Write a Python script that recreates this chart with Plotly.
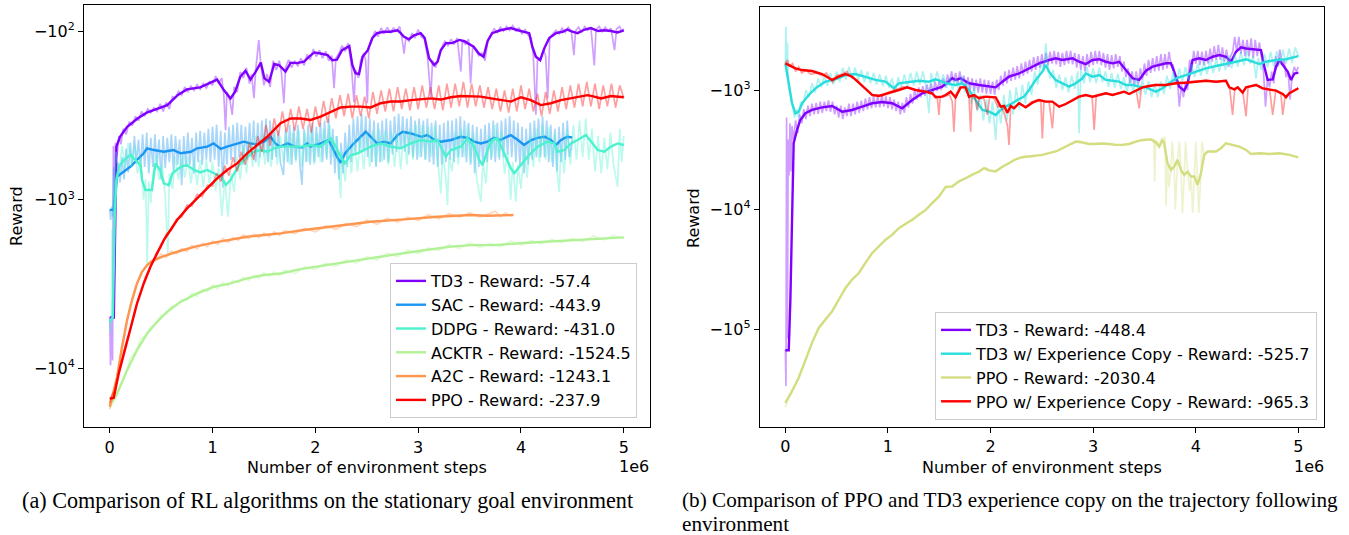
import plotly.graph_objects as go

# ---------------- data: (environment steps in millions, reward) ----------------
# Left panel: stationary goal environment
td3_a = [(0.00,-5000),(0.04,-5000),(0.065,-485),(0.10,-424),(0.17,-370),(0.27,-330),(0.36,-305),(0.49,-284),(0.56,-275),(0.66,-240),(0.75,-222),(0.88,-216),(1.01,-200),(1.045,-194),(1.11,-224),(1.175,-251),(1.22,-229),(1.27,-187),(1.32,-172),(1.37,-194),(1.42,-174),(1.47,-154),(1.505,-191),(1.55,-200),(1.60,-157),(1.65,-160),(1.71,-174),(1.76,-154),(1.82,-155),(1.89,-152),(1.94,-142),(1.99,-134),(2.05,-136),(2.12,-139),(2.165,-149),(2.21,-148),(2.26,-130),(2.33,-123),(2.36,-159),(2.39,-178),(2.425,-180),(2.46,-142),(2.51,-130),(2.555,-110),(2.60,-103),(2.67,-101),(2.73,-101),(2.80,-99),(2.83,-103),(2.86,-108),(2.91,-112),(2.96,-106),(3.025,-103),(3.064,-110),(3.106,-145),(3.155,-159),(3.19,-152),(3.22,-130),(3.27,-118),(3.33,-118),(3.40,-113),(3.45,-115),(3.48,-118),(3.54,-124),(3.59,-136),(3.636,-142),(3.675,-115),(3.72,-103),(3.80,-99),(3.90,-96),(3.97,-99),(4.03,-101),(4.08,-103),(4.11,-124),(4.145,-142),(4.187,-149),(4.226,-127),(4.275,-110),(4.34,-103),(4.405,-101),(4.45,-98),(4.50,-101),(4.55,-103),(4.62,-98),(4.68,-96),(4.75,-100),(4.81,-99),(4.875,-100),(4.94,-102),(5.00,-99)]
td3_a_raw = [(0.000,-5000),(0.008,-9600),(0.018,-5200),(0.028,-9000),(0.036,-480),(0.046,-1400),(0.056,-460),(0.07,-560),(0.09,-420),(0.11,-470),(0.13,-380),(0.16,-410),(0.19,-345),(0.22,-365),(0.25,-320),(0.28,-340),(0.31,-300),(0.34,-320),(0.37,-290),(0.40,-305),(0.43,-285),(0.46,-300),(0.49,-270),(0.52,-300),(0.55,-265),(0.58,-290),(0.61,-245),(0.64,-250),(0.67,-228),(0.70,-240),(0.73,-215),(0.76,-230),(0.79,-212),(0.82,-225),(0.85,-208),(0.88,-222),(0.91,-205),(0.94,-218),(0.97,-200),(1.00,-210),(1.03,-185),(1.06,-205),(1.09,-190),(1.11,-240),(1.127,-387),(1.14,-230),(1.17,-260),(1.192,-314),(1.21,-215),(1.24,-230),(1.27,-175),(1.30,-190),(1.33,-165),(1.36,-205),(1.38,-180),(1.403,-250),(1.42,-170),(1.45,-113),(1.47,-160),(1.50,-210),(1.53,-180),(1.56,-215),(1.59,-150),(1.62,-170),(1.65,-150),(1.67,-175),(1.694,-268),(1.71,-165),(1.74,-148),(1.77,-165),(1.80,-150),(1.83,-162),(1.86,-145),(1.89,-160),(1.92,-138),(1.95,-148),(1.98,-128),(2.01,-142),(2.04,-130),(2.07,-145),(2.10,-132),(2.13,-150),(2.16,-140),(2.182,-218),(2.20,-145),(2.23,-135),(2.26,-122),(2.29,-132),(2.32,-118),(2.35,-160),(2.376,-264),(2.39,-170),(2.42,-190),(2.44,-150),(2.47,-135),(2.49,-150),(2.506,-268),(2.52,-125),(2.55,-112),(2.58,-100),(2.61,-108),(2.64,-96),(2.67,-104),(2.70,-95),(2.73,-103),(2.76,-96),(2.79,-100),(2.82,-94),(2.84,-108),(2.863,-136),(2.88,-110),(2.91,-115),(2.94,-103),(2.97,-110),(3.00,-98),(3.03,-108),(3.06,-112),(3.09,-140),(3.123,-246),(3.14,-150),(3.17,-165),(3.20,-140),(3.23,-125),(3.26,-115),(3.29,-122),(3.32,-112),(3.35,-120),(3.38,-110),(3.415,-174),(3.43,-114),(3.46,-120),(3.49,-112),(3.51,-204),(3.53,-125),(3.56,-130),(3.59,-140),(3.62,-135),(3.65,-150),(3.68,-112),(3.71,-104),(3.74,-97),(3.77,-102),(3.80,-95),(3.83,-100),(3.86,-94),(3.89,-99),(3.92,-93),(3.95,-100),(3.98,-96),(4.01,-104),(4.04,-98),(4.07,-106),(4.10,-110),(4.12,-140),(4.145,-314),(4.16,-150),(4.19,-145),(4.22,-130),(4.24,-140),(4.26,-250),(4.28,-110),(4.31,-104),(4.34,-99),(4.37,-104),(4.40,-96),(4.43,-102),(4.46,-95),(4.49,-100),(4.515,-139),(4.53,-100),(4.56,-95),(4.59,-102),(4.62,-94),(4.65,-99),(4.68,-95),(4.713,-160),(4.73,-98),(4.76,-94),(4.79,-101),(4.82,-95),(4.85,-100),(4.875,-96),(4.91,-130),(4.93,-97),(4.96,-94),(4.98,-100),(5.00,-97)]

sac_a = [(0.00,-1150),(0.039,-1150),(0.072,-730),(0.137,-683),(0.20,-638),(0.266,-582),(0.33,-531),(0.364,-496),(0.43,-508),(0.526,-520),(0.62,-508),(0.69,-531),(0.79,-520),(0.85,-496),(0.95,-485),(1.01,-464),(1.08,-500),(1.14,-485),(1.24,-464),(1.305,-453),(1.37,-464),(1.435,-470),(1.50,-453),(1.565,-424),(1.61,-464),(1.66,-485),(1.73,-464),(1.80,-485),(1.87,-490),(1.92,-464),(1.95,-485),(2.05,-464),(2.13,-443),(2.16,-485),(2.21,-556),(2.245,-604),(2.29,-531),(2.36,-474),(2.44,-424),(2.49,-396),(2.54,-424),(2.60,-464),(2.67,-453),(2.73,-464),(2.80,-414),(2.85,-396),(2.93,-405),(3.03,-424),(3.09,-414),(3.16,-443),(3.22,-453),(3.32,-443),(3.415,-424),(3.48,-430),(3.545,-453),(3.61,-464),(3.675,-453),(3.74,-430),(3.80,-443),(3.90,-414),(3.97,-443),(4.03,-474),(4.10,-443),(4.16,-430),(4.23,-424),(4.29,-443),(4.34,-474),(4.39,-443),(4.45,-424),(4.50,-428)]
sac_a_raw = [(0,-1150),(0.01,-1320),(0.02,-1100),(0.03,-1260),(0.04,-640),(0.06,-850),(0.08,-600),(0.10,-790),(0.12,-560),(0.14,-760),(0.16,-500),(0.18,-690),(0.20,-460),(0.22,-640),(0.24,-420),(0.26,-610),(0.28,-440),(0.30,-660),(0.32,-410),(0.34,-640),(0.36,-400),(0.38,-700),(0.40,-430),(0.42,-640),(0.44,-410),(0.46,-620),(0.48,-440),(0.50,-760),(0.52,-420),(0.54,-650),(0.56,-430),(0.58,-600),(0.60,-410),(0.62,-680),(0.64,-420),(0.66,-620),(0.68,-440),(0.70,-820),(0.72,-420),(0.74,-640),(0.76,-400),(0.78,-620),(0.80,-430),(0.82,-700),(0.84,-400),(0.86,-600),(0.88,-390),(0.90,-620),(0.92,-400),(0.94,-580),(0.96,-380),(0.98,-600),(1.00,-370),(1.02,-580),(1.04,-360),(1.06,-640),(1.08,-390),(1.10,-850),(1.12,-400),(1.14,-620),(1.16,-370),(1.18,-580),(1.20,-360),(1.22,-600),(1.24,-350),(1.26,-560),(1.28,-360),(1.30,-620),(1.32,-370),(1.34,-580),(1.36,-350),(1.38,-560),(1.40,-340),(1.42,-600),(1.44,-350),(1.46,-560),(1.48,-340),(1.50,-540),(1.52,-330),(1.54,-600),(1.56,-340),(1.58,-580),(1.60,-370),(1.62,-560),(1.64,-390),(1.66,-600),(1.69,-715),(1.71,-380),(1.73,-600),(1.75,-360),(1.77,-620),(1.79,-370),(1.81,-580),(1.83,-360),(1.85,-620),(1.87,-818),(1.89,-380),(1.91,-600),(1.93,-360),(1.95,-620),(1.97,-350),(1.99,-600),(2.01,-370),(2.03,-560),(2.05,-350),(2.07,-600),(2.09,-340),(2.11,-580),(2.13,-330),(2.15,-620),(2.17,-380),(2.19,-700),(2.21,-420),(2.23,-760),(2.25,-460),(2.27,-700),(2.29,-400),(2.31,-640),(2.33,-360),(2.35,-600),(2.37,-330),(2.39,-540),(2.41,-320),(2.43,-520),(2.45,-310),(2.47,-520),(2.49,-320),(2.51,-560),(2.53,-330),(2.55,-600),(2.57,-340),(2.59,-640),(2.61,-350),(2.63,-600),(2.65,-340),(2.67,-580),(2.69,-330),(2.71,-600),(2.73,-340),(2.75,-540),(2.77,-320),(2.79,-520),(2.81,-310),(2.83,-500),(2.85,-320),(2.87,-520),(2.89,-330),(2.91,-540),(2.93,-320),(2.95,-560),(2.97,-340),(2.99,-580),(3.01,-330),(3.03,-560),(3.05,-340),(3.07,-580),(3.09,-330),(3.11,-600),(3.13,-350),(3.15,-620),(3.17,-340),(3.19,-640),(3.21,-360),(3.23,-620),(3.25,-350),(3.27,-600),(3.29,-340),(3.31,-580),(3.33,-340),(3.35,-600),(3.37,-330),(3.39,-560),(3.41,-320),(3.43,-560),(3.45,-340),(3.47,-600),(3.49,-350),(3.51,-620),(3.53,-360),(3.55,-700),(3.57,-370),(3.59,-640),(3.61,-380),(3.63,-620),(3.65,-360),(3.67,-600),(3.69,-350),(3.71,-580),(3.73,-340),(3.75,-600),(3.77,-350),(3.79,-580),(3.81,-340),(3.83,-560),(3.85,-330),(3.87,-540),(3.89,-320),(3.91,-560),(3.93,-340),(3.95,-600),(3.97,-350),(3.99,-640),(4.01,-370),(4.03,-700),(4.05,-380),(4.07,-620),(4.09,-350),(4.11,-580),(4.13,-340),(4.15,-560),(4.17,-330),(4.19,-560),(4.21,-320),(4.23,-560),(4.25,-340),(4.27,-600),(4.29,-360),(4.31,-640),(4.33,-380),(4.35,-680),(4.37,-370),(4.39,-600),(4.41,-350),(4.43,-580),(4.45,-340),(4.47,-560),(4.50,-440)]

ddpg_a = [(0.00,-5300),(0.03,-5000),(0.05,-1200),(0.065,-765),(0.09,-638),(0.137,-582),(0.20,-543),(0.25,-582),(0.30,-624),(0.315,-765),(0.347,-877),(0.41,-877),(0.445,-610),(0.49,-667),(0.526,-800),(0.575,-820),(0.61,-698),(0.69,-638),(0.75,-623),(0.82,-667),(0.88,-690),(0.95,-667),(1.01,-698),(1.08,-731),(1.13,-818),(1.175,-765),(1.21,-698),(1.27,-610),(1.34,-556),(1.40,-520),(1.47,-508),(1.53,-520),(1.60,-496),(1.662,-485),(1.76,-485),(1.857,-485),(1.954,-474),(2.051,-485),(2.149,-433),(2.198,-485),(2.246,-556),(2.285,-610),(2.344,-546),(2.409,-531),(2.474,-508),(2.538,-485),(2.636,-464),(2.733,-485),(2.831,-496),(2.928,-464),(3.025,-443),(3.123,-453),(3.188,-443),(3.236,-508),(3.269,-556),(3.318,-508),(3.415,-485),(3.48,-433),(3.545,-485),(3.594,-582),(3.626,-624),(3.675,-508),(3.723,-443),(3.772,-433),(3.837,-531),(3.902,-653),(3.934,-698),(3.983,-638),(4.064,-556),(4.161,-485),(4.259,-453),(4.324,-464),(4.356,-520),(4.421,-508),(4.486,-464),(4.55,-443),(4.632,-414),(4.697,-464),(4.746,-508),(4.81,-520),(4.875,-485),(4.94,-464),(5.0,-474)]
ddpg_a_raw = [(0.000,-5300),(0.008,-6200),(0.016,-4800),(0.024,-1500),(0.032,-4600),(0.04,-900),(0.05,-700),(0.06,-520),(0.09,-700),(0.12,-480),(0.15,-650),(0.18,-460),(0.21,-640),(0.24,-480),(0.27,-700),(0.30,-560),(0.33,-1000),(0.35,-760),(0.364,-2500),(0.38,-780),(0.40,-1050),(0.42,-700),(0.45,-540),(0.48,-760),(0.51,-620),(0.54,-960),(0.566,-2100),(0.58,-700),(0.61,-860),(0.64,-560),(0.67,-760),(0.70,-540),(0.73,-740),(0.76,-560),(0.79,-800),(0.82,-580),(0.85,-820),(0.88,-580),(0.91,-840),(0.94,-580),(0.97,-800),(1.00,-600),(1.03,-880),(1.06,-650),(1.09,-1250),(1.12,-760),(1.15,-1260),(1.18,-700),(1.21,-900),(1.24,-560),(1.27,-760),(1.30,-480),(1.33,-700),(1.36,-440),(1.39,-640),(1.42,-420),(1.45,-640),(1.48,-420),(1.51,-620),(1.54,-430),(1.57,-640),(1.60,-410),(1.63,-620),(1.66,-420),(1.69,-600),(1.72,-400),(1.75,-620),(1.78,-400),(1.81,-600),(1.84,-390),(1.87,-640),(1.90,-400),(1.93,-600),(1.96,-380),(1.99,-620),(2.02,-400),(2.05,-600),(2.08,-380),(2.11,-560),(2.14,-360),(2.17,-560),(2.20,-420),(2.23,-700),(2.246,-980),(2.26,-520),(2.29,-780),(2.32,-460),(2.35,-700),(2.38,-440),(2.41,-680),(2.44,-420),(2.47,-660),(2.50,-400),(2.53,-640),(2.56,-390),(2.59,-620),(2.62,-380),(2.65,-600),(2.68,-390),(2.71,-620),(2.74,-400),(2.77,-640),(2.80,-400),(2.83,-660),(2.86,-390),(2.89,-620),(2.92,-380),(2.95,-580),(2.98,-360),(3.01,-560),(3.04,-360),(3.07,-580),(3.10,-370),(3.13,-560),(3.16,-360),(3.19,-600),(3.22,-920),(3.24,-520),(3.27,-760),(3.285,-1076),(3.30,-560),(3.33,-680),(3.36,-400),(3.39,-620),(3.42,-380),(3.45,-560),(3.48,-360),(3.51,-600),(3.54,-400),(3.57,-760),(3.61,-1030),(3.63,-600),(3.66,-800),(3.69,-420),(3.72,-560),(3.75,-360),(3.78,-560),(3.81,-400),(3.84,-700),(3.87,-520),(3.90,-1000),(3.92,-600),(3.95,-1030),(3.97,-620),(4.00,-860),(4.03,-480),(4.06,-740),(4.09,-420),(4.12,-640),(4.15,-380),(4.18,-600),(4.21,-360),(4.24,-580),(4.27,-370),(4.30,-600),(4.33,-400),(4.35,-680),(4.372,-900),(4.39,-460),(4.42,-700),(4.45,-380),(4.48,-620),(4.51,-360),(4.54,-580),(4.57,-340),(4.60,-560),(4.63,-330),(4.66,-580),(4.69,-380),(4.72,-680),(4.75,-420),(4.78,-700),(4.81,-430),(4.84,-660),(4.87,-400),(4.90,-620),(4.94,-840),(4.96,-380),(4.98,-600),(5.00,-420)]

acktr_a = [(0.0,-16500),(0.072,-14100),(0.169,-10260),(0.266,-7800),(0.364,-6210),(0.461,-5300),(0.559,-4620),(0.688,-4040),(0.85,-3600),(1.013,-3290),(1.175,-3140),(1.337,-2930),(1.5,-2800),(1.662,-2740),(1.857,-2580),(2.149,-2420),(2.441,-2260),(2.733,-2132),(3.025,-2010),(3.318,-1900),(3.512,-1860),(3.74,-1860),(4.064,-1800),(4.388,-1755),(4.713,-1700),(5.0,-1675)]
acktr_a_raw = [(0.0,-17200),(0.05,-15500),(0.10,-12800),(0.15,-11000),(0.20,-8700),(0.25,-8000),(0.30,-6700),(0.35,-6400),(0.40,-5700),(0.45,-5450),(0.50,-4850),(0.55,-4800),(0.60,-4300),(0.65,-4250),(0.70,-3900),(0.75,-3950),(0.80,-3600),(0.85,-3750),(0.90,-3400),(0.95,-3500),(1.00,-3200),(1.05,-3380),(1.10,-3100),(1.15,-3250),(1.20,-3020),(1.25,-3120),(1.30,-2880),(1.35,-3020),(1.40,-2800),(1.45,-2920),(1.50,-2720),(1.55,-2850),(1.60,-2680),(1.65,-2820),(1.70,-2620),(1.80,-2740),(1.90,-2500),(2.00,-2600),(2.10,-2380),(2.20,-2480),(2.30,-2280),(2.40,-2380),(2.50,-2180),(2.60,-2280),(2.70,-2080),(2.80,-2180),(2.90,-1990),(3.00,-2090),(3.10,-1930),(3.20,-2000),(3.30,-1850),(3.40,-1950),(3.50,-1800),(3.60,-1920),(3.70,-1820),(3.80,-1900),(3.90,-1760),(4.00,-1860),(4.10,-1750),(4.20,-1830),(4.30,-1720),(4.40,-1800),(4.50,-1690),(4.60,-1770),(4.70,-1640),(4.80,-1730),(4.90,-1630),(5.00,-1700)]

a2c_a = [(0.0,-16900),(0.072,-11220),(0.12,-7450),(0.169,-5180),(0.218,-3940),(0.266,-3140),(0.315,-2680),(0.364,-2445),(0.428,-2282),(0.526,-2160),(0.688,-2010),(0.85,-1885),(1.013,-1800),(1.175,-1722),(1.337,-1660),(1.5,-1622),(1.662,-1585),(1.887,-1514),(2.214,-1436),(2.538,-1353),(2.863,-1310),(3.188,-1263),(3.512,-1234),(3.67,-1245),(3.926,-1234)]
a2c_a_raw = [(0.0,-17500),(0.05,-13500),(0.10,-8800),(0.15,-6000),(0.20,-4200),(0.25,-3300),(0.30,-2750),(0.35,-2500),(0.40,-2300),(0.45,-2300),(0.50,-2100),(0.55,-2200),(0.60,-2020),(0.65,-2100),(0.70,-1950),(0.75,-2030),(0.80,-1870),(0.85,-1960),(0.90,-1820),(0.95,-1900),(1.00,-1760),(1.05,-1850),(1.10,-1700),(1.15,-1790),(1.20,-1680),(1.25,-1740),(1.30,-1620),(1.35,-1700),(1.40,-1600),(1.45,-1680),(1.50,-1580),(1.55,-1660),(1.60,-1550),(1.65,-1630),(1.70,-1530),(1.80,-1590),(1.90,-1480),(2.00,-1550),(2.10,-1430),(2.20,-1500),(2.30,-1390),(2.40,-1450),(2.50,-1320),(2.60,-1400),(2.70,-1290),(2.80,-1360),(2.90,-1270),(3.00,-1330),(3.10,-1230),(3.20,-1300),(3.30,-1210),(3.40,-1270),(3.50,-1200),(3.60,-1270),(3.70,-1210),(3.75,-1170),(3.80,-1260),(3.85,-1200),(3.90,-1250),(3.926,-1230)]

ppo_a = [(0.0,-15100),(0.039,-15000),(0.088,-10720),(0.137,-8170),(0.201,-5680),(0.266,-4120),(0.331,-3140),(0.396,-2500),(0.461,-2083),(0.526,-1738),(0.591,-1514),(0.656,-1321),(0.753,-1127),(0.85,-982),(0.948,-857),(1.045,-748),(1.142,-667),(1.24,-610),(1.337,-531),(1.435,-474),(1.532,-424),(1.662,-352),(1.76,-330),(1.857,-330),(1.954,-337),(2.051,-322),(2.149,-301),(2.246,-284),(2.344,-281),(2.441,-281),(2.538,-284),(2.636,-268),(2.733,-262),(2.831,-262),(2.928,-257),(3.025,-255),(3.123,-251),(3.22,-255),(3.318,-247),(3.415,-243),(3.512,-245),(3.61,-245),(3.707,-251),(3.804,-257),(3.902,-262),(3.999,-247),(4.096,-257),(4.194,-275),(4.291,-268),(4.388,-257),(4.486,-251),(4.583,-245),(4.648,-240),(4.713,-245),(4.778,-251),(4.875,-243),(4.94,-245),(5.0,-247)]
ppo_a_raw = [(0.0,-16000),(0.02,-14500),(0.05,-13500),(0.10,-10000),(0.15,-7400),(0.20,-5900),(0.25,-4400),(0.30,-3600),(0.35,-2850),(0.40,-2500),(0.45,-2100),(0.50,-1900),(0.55,-1600),(0.60,-1520),(0.65,-1300),(0.70,-1270),(0.75,-1080),(0.80,-1090),(0.85,-930),(0.90,-960),(0.95,-820),(1.00,-830),(1.04,-700),(1.08,-780),(1.12,-630),(1.16,-720),(1.20,-560),(1.24,-680),(1.28,-520),(1.32,-620),(1.36,-460),(1.40,-580),(1.44,-420),(1.48,-520),(1.52,-360),(1.56,-480),(1.60,-330),(1.64,-420),(1.68,-300),(1.72,-400),(1.76,-290),(1.80,-390),(1.84,-280),(1.88,-380),(1.92,-290),(1.96,-400),(2.00,-280),(2.04,-370),(2.08,-260),(2.12,-350),(2.16,-250),(2.20,-330),(2.24,-240),(2.28,-320),(2.32,-235),(2.36,-330),(2.40,-240),(2.44,-320),(2.48,-245),(2.52,-330),(2.56,-230),(2.60,-310),(2.64,-225),(2.68,-300),(2.72,-220),(2.76,-300),(2.80,-215),(2.84,-290),(2.88,-220),(2.92,-295),(2.96,-215),(3.00,-290),(3.04,-210),(3.08,-285),(3.12,-215),(3.16,-290),(3.20,-210),(3.24,-295),(3.28,-205),(3.32,-285),(3.36,-205),(3.40,-280),(3.44,-200),(3.48,-285),(3.52,-205),(3.56,-280),(3.60,-210),(3.64,-285),(3.68,-215),(3.72,-290),(3.76,-220),(3.80,-300),(3.84,-225),(3.88,-305),(3.92,-220),(3.96,-300),(4.00,-210),(4.04,-290),(4.08,-220),(4.12,-300),(4.16,-235),(4.20,-320),(4.24,-230),(4.28,-310),(4.32,-225),(4.36,-300),(4.40,-215),(4.44,-290),(4.48,-210),(4.52,-285),(4.56,-205),(4.60,-280),(4.64,-200),(4.68,-280),(4.72,-205),(4.76,-290),(4.80,-210),(4.84,-280),(4.88,-205),(4.92,-285),(4.96,-210),(5.00,-250)]

# Right panel: trajectory following environment
td3_b = [(0,-150600),(0.033,-150600),(0.049,-56700),(0.065,-8300),(0.081,-2790),(0.114,-2159),(0.146,-1781),(0.195,-1566),(0.26,-1469),(0.358,-1396),(0.456,-1361),(0.553,-1518),(0.651,-1469),(0.749,-1378),(0.846,-1291),(0.944,-1260),(1.041,-1291),(1.139,-1422),(1.236,-1212),(1.334,-1066),(1.432,-1000),(1.529,-938),(1.627,-798),(1.659,-824),(1.708,-798),(1.79,-879),(1.887,-908),(1.985,-926),(2.05,-950),(2.115,-852),(2.18,-774),(2.278,-727),(2.376,-659),(2.473,-598),(2.571,-561),(2.635,-543),(2.70,-561),(2.798,-543),(2.863,-580),(2.928,-607),(2.994,-561),(3.059,-553),(3.123,-580),(3.189,-598),(3.254,-580),(3.318,-681),(3.384,-798),(3.449,-824),(3.514,-690),(3.579,-638),(3.644,-618),(3.709,-598),(3.758,-598),(3.79,-703),(3.839,-938),(3.888,-1013),(3.921,-879),(3.969,-561),(4.034,-543),(4.099,-561),(4.165,-527),(4.23,-510),(4.295,-527),(4.344,-580),(4.392,-479),(4.441,-440),(4.49,-449),(4.555,-457),(4.636,-463),(4.669,-638),(4.701,-824),(4.75,-814),(4.783,-638),(4.815,-561),(4.848,-618),(4.897,-703),(4.929,-824),(4.962,-727),(5.0,-716)]
td3_b_raw = [(0,-150000),(0.006,-300000),(0.012,-1700),(0.02,-120000),(0.028,-2600),(0.036,-5200),(0.045,-1900),(0.055,-4800),(0.065,-2000),(0.08,-2600),(0.10,-1800),(0.12,-2300),(0.14,-1600),(0.16,-1900),(0.18,-1450),(0.20,-1750),(0.22,-1350),(0.24,-1650),(0.26,-1300),(0.28,-1600),(0.30,-1280),(0.32,-1580),(0.34,-1250),(0.36,-1550),(0.38,-1250),(0.40,-1500),(0.42,-1220),(0.44,-1520),(0.46,-1250),(0.48,-1600),(0.50,-1350),(0.52,-1700),(0.54,-1350),(0.56,-1750),(0.58,-1400),(0.60,-1650),(0.62,-1300),(0.64,-1650),(0.66,-1300),(0.68,-1600),(0.70,-1250),(0.72,-1550),(0.74,-1230),(0.76,-1500),(0.78,-1180),(0.80,-1450),(0.82,-1150),(0.84,-1420),(0.86,-1130),(0.88,-1400),(0.90,-1120),(0.92,-1400),(0.94,-1100),(0.96,-1380),(0.98,-1130),(1.00,-1420),(1.02,-1150),(1.04,-1450),(1.06,-1200),(1.08,-1500),(1.10,-1250),(1.12,-1600),(1.14,-1280),(1.16,-1550),(1.18,-1150),(1.20,-1400),(1.22,-1080),(1.24,-1300),(1.26,-1000),(1.28,-1200),(1.30,-950),(1.32,-1150),(1.34,-930),(1.36,-1120),(1.38,-900),(1.40,-1080),(1.42,-880),(1.44,-1050),(1.46,-850),(1.48,-1020),(1.50,-830),(1.52,-1000),(1.54,-800),(1.56,-950),(1.58,-740),(1.60,-880),(1.62,-700),(1.64,-860),(1.66,-720),(1.68,-880),(1.70,-700),(1.72,-880),(1.74,-760),(1.76,-960),(1.78,-780),(1.80,-1000),(1.82,-800),(1.84,-1020),(1.86,-820),(1.88,-1050),(1.90,-800),(1.92,-1050),(1.94,-820),(1.96,-1080),(1.98,-830),(2.00,-1080),(2.02,-850),(2.04,-1100),(2.06,-820),(2.08,-1000),(2.10,-760),(2.12,-920),(2.14,-700),(2.16,-880),(2.18,-680),(2.20,-840),(2.22,-650),(2.24,-820),(2.26,-630),(2.28,-800),(2.30,-600),(2.32,-760),(2.34,-580),(2.36,-730),(2.38,-560),(2.40,-700),(2.42,-530),(2.44,-680),(2.46,-520),(2.48,-650),(2.50,-500),(2.52,-640),(2.54,-490),(2.56,-620),(2.58,-480),(2.60,-600),(2.62,-470),(2.64,-610),(2.66,-480),(2.68,-640),(2.70,-490),(2.72,-620),(2.74,-470),(2.76,-600),(2.78,-470),(2.80,-610),(2.82,-490),(2.84,-650),(2.86,-500),(2.88,-680),(2.90,-520),(2.92,-700),(2.94,-500),(2.96,-640),(2.98,-480),(3.00,-620),(3.02,-470),(3.04,-600),(3.06,-470),(3.08,-620),(3.10,-490),(3.12,-650),(3.14,-500),(3.16,-680),(3.18,-510),(3.20,-660),(3.22,-500),(3.24,-640),(3.26,-520),(3.28,-700),(3.30,-580),(3.32,-780),(3.34,-660),(3.36,-880),(3.38,-700),(3.40,-920),(3.42,-700),(3.44,-900),(3.46,-660),(3.48,-820),(3.50,-600),(3.52,-760),(3.54,-560),(3.56,-720),(3.58,-540),(3.60,-700),(3.62,-520),(3.64,-690),(3.66,-500),(3.68,-680),(3.70,-500),(3.72,-660),(3.74,-480),(3.76,-620),(3.78,-620),(3.80,-850),(3.82,-800),(3.84,-1378),(3.86,-900),(3.88,-1150),(3.90,-850),(3.92,-1000),(3.94,-560),(3.96,-700),(3.98,-470),(4.00,-600),(4.02,-470),(4.04,-620),(4.06,-480),(4.08,-620),(4.10,-470),(4.12,-600),(4.14,-450),(4.16,-580),(4.18,-430),(4.20,-560),(4.22,-420),(4.24,-560),(4.26,-440),(4.28,-580),(4.30,-460),(4.32,-640),(4.34,-520),(4.36,-480),(4.38,-360),(4.40,-480),(4.42,-360),(4.44,-500),(4.46,-380),(4.48,-520),(4.50,-380),(4.52,-520),(4.54,-370),(4.56,-540),(4.58,-380),(4.60,-520),(4.62,-400),(4.64,-560),(4.66,-700),(4.68,-1378),(4.70,-800),(4.72,-950),(4.74,-700),(4.76,-880),(4.78,-520),(4.80,-640),(4.82,-460),(4.84,-620),(4.86,-560),(4.88,-780),(4.90,-700),(4.92,-1200),(4.94,-760),(4.96,-640),(4.98,-700),(5.00,-640)]

td3ec_b = [(0,-598),(0.033,-879),(0.065,-1291),(0.098,-1566),(0.13,-1518),(0.163,-1291),(0.228,-1101),(0.293,-968),(0.39,-852),(0.488,-814),(0.586,-750),(0.683,-735),(0.781,-783),(0.879,-824),(0.976,-852),(1.057,-968),(1.106,-879),(1.204,-852),(1.301,-836),(1.399,-852),(1.464,-814),(1.529,-852),(1.594,-891),(1.659,-908),(1.725,-879),(1.79,-1000),(1.855,-1212),(1.92,-1469),(1.985,-1518),(2.05,-1617),(2.099,-1469),(2.147,-1378),(2.212,-1291),(2.261,-1212),(2.326,-1137),(2.376,-1000),(2.44,-824),(2.505,-703),(2.538,-618),(2.57,-703),(2.635,-824),(2.70,-879),(2.766,-938),(2.831,-879),(2.896,-798),(2.928,-727),(2.994,-774),(3.059,-750),(3.123,-824),(3.189,-836),(3.254,-852),(3.318,-908),(3.384,-908),(3.449,-938),(3.514,-950),(3.611,-1033),(3.676,-968),(3.742,-879),(3.807,-798),(3.904,-750),(4.002,-703),(4.099,-659),(4.197,-630),(4.295,-607),(4.392,-580),(4.49,-553),(4.555,-580),(4.62,-607),(4.685,-580),(4.783,-561),(4.88,-553),(5.0,-520)]
td3ec_b_raw = [(0,-600),(0.006,-296),(0.012,-700),(0.02,-400),(0.03,-900),(0.05,-1100),(0.07,-1400),(0.09,-1700),(0.11,-1450),(0.13,-1700),(0.15,-1250),(0.17,-1350),(0.20,-1000),(0.23,-1150),(0.26,-880),(0.29,-1050),(0.32,-800),(0.35,-950),(0.38,-760),(0.41,-920),(0.44,-720),(0.47,-900),(0.50,-700),(0.53,-860),(0.56,-650),(0.59,-820),(0.62,-640),(0.65,-800),(0.68,-650),(0.71,-820),(0.74,-680),(0.77,-860),(0.80,-700),(0.83,-880),(0.86,-720),(0.89,-900),(0.92,-740),(0.95,-930),(0.98,-760),(1.01,-960),(1.04,-800),(1.07,-1050),(1.10,-780),(1.13,-960),(1.16,-740),(1.19,-930),(1.22,-720),(1.25,-920),(1.28,-700),(1.31,-900),(1.34,-700),(1.37,-920),(1.40,-1566),(1.42,-720),(1.45,-880),(1.48,-700),(1.51,-900),(1.54,-740),(1.57,-960),(1.60,-780),(1.63,-1000),(1.66,-800),(1.69,-1000),(1.72,-760),(1.75,-1050),(1.78,-850),(1.81,-1300),(1.84,-950),(1.87,-1500),(1.90,-1100),(1.93,-1800),(1.96,-1200),(1.99,-1900),(2.02,-1250),(2.05,-2617),(2.07,-1300),(2.10,-1900),(2.13,-1100),(2.16,-1800),(2.19,-1000),(2.22,-1600),(2.25,-950),(2.28,-1450),(2.31,-900),(2.34,-1300),(2.37,-850),(2.40,-1100),(2.43,-700),(2.46,-900),(2.49,-600),(2.52,-700),(2.538,-407),(2.55,-560),(2.58,-800),(2.61,-680),(2.64,-960),(2.67,-740),(2.70,-1000),(2.73,-780),(2.76,-1050),(2.79,-760),(2.82,-980),(2.85,-700),(2.863,-2303),(2.88,-680),(2.91,-880),(2.94,-640),(2.97,-860),(3.00,-660),(3.03,-880),(3.06,-650),(3.09,-860),(3.12,-700),(3.15,-940),(3.18,-720),(3.21,-960),(3.24,-730),(3.27,-980),(3.30,-780),(3.33,-1040),(3.36,-780),(3.39,-1050),(3.42,-800),(3.45,-1080),(3.48,-820),(3.51,-1100),(3.54,-840),(3.57,-1150),(3.60,-880),(3.63,-1150),(3.66,-850),(3.69,-1080),(3.72,-760),(3.75,-980),(3.78,-700),(3.81,-900),(3.84,-660),(3.87,-850),(3.90,-640),(3.93,-820),(3.96,-610),(3.99,-780),(4.02,-600),(4.05,-760),(4.08,-570),(4.11,-740),(4.14,-560),(4.17,-720),(4.20,-550),(4.23,-700),(4.26,-530),(4.29,-680),(4.32,-510),(4.35,-660),(4.38,-500),(4.41,-640),(4.44,-480),(4.47,-620),(4.50,-470),(4.53,-600),(4.56,-520),(4.587,-800),(4.61,-540),(4.64,-680),(4.67,-500),(4.70,-650),(4.73,-480),(4.76,-630),(4.79,-470),(4.82,-620),(4.85,-460),(4.88,-600),(4.91,-450),(4.94,-590),(4.97,-440),(5.00,-520)]

ppo_b = [(0,-415000),(0.065,-331000),(0.13,-256000),(0.195,-180000),(0.26,-130600),(0.325,-98000),(0.39,-83300),(0.456,-71100),(0.521,-56700),(0.586,-45400),(0.651,-38600),(0.716,-34000),(0.781,-28000),(0.846,-23100),(0.911,-20400),(0.976,-17900),(1.041,-16300),(1.106,-14300),(1.171,-13200),(1.236,-12200),(1.301,-11070),(1.367,-10070),(1.432,-8850),(1.497,-7780),(1.562,-6500),(1.627,-6400),(1.692,-5830),(1.757,-5470),(1.822,-5130),(1.887,-4810),(1.936,-4500),(1.985,-4700),(2.05,-4810),(2.115,-4380),(2.18,-4100),(2.245,-3800),(2.31,-3650),(2.376,-3610),(2.44,-3560),(2.505,-3490),(2.57,-3380),(2.635,-3270),(2.70,-3070),(2.766,-2880),(2.831,-2700),(2.896,-2750),(2.961,-2830),(3.026,-2830),(3.091,-2800),(3.156,-2830),(3.221,-2880),(3.286,-2880),(3.351,-2830),(3.416,-2700),(3.481,-2617),(3.563,-2590),(3.611,-2750),(3.644,-2980),(3.676,-2617),(3.693,-2800),(3.725,-4090),(3.758,-4660),(3.79,-4380),(3.823,-3845),(3.856,-4660),(3.888,-5130),(3.921,-4810),(3.953,-5300),(3.986,-5300),(4.018,-6220),(4.051,-4960),(4.083,-3490),(4.116,-3270),(4.197,-3270),(4.246,-3070),(4.295,-2790),(4.359,-2880),(4.425,-2980),(4.49,-3172),(4.538,-3430),(4.62,-3380),(4.718,-3430),(4.815,-3380),(4.913,-3490),(5.0,-3660)]
ppo_b_raw = [(0,-454000),(0.02,-400000),(0.065,-335000),(0.13,-256000),(0.195,-185000),(0.26,-128000),(0.325,-100000),(0.39,-82000),(0.456,-72000),(0.521,-56000),(0.586,-46000),(0.651,-38000),(0.716,-34500),(0.781,-27500),(0.846,-23500),(0.911,-20000),(0.976,-18200),(1.041,-16000),(1.106,-14500),(1.171,-13000),(1.236,-12400),(1.301,-10900),(1.367,-10200),(1.432,-8700),(1.497,-7900),(1.562,-6400),(1.627,-6500),(1.692,-5700),(1.757,-5550),(1.822,-5000),(1.887,-4900),(1.952,-4450),(2.017,-4800),(2.082,-4600),(2.147,-4200),(2.212,-3900),(2.278,-3700),(2.343,-3580),(2.408,-3620),(2.473,-3480),(2.538,-3450),(2.603,-3300),(2.668,-3200),(2.733,-2980),(2.798,-2800),(2.863,-2650),(2.928,-2800),(2.994,-2830),(3.059,-2780),(3.123,-2850),(3.189,-2830),(3.254,-2900),(3.318,-2850),(3.384,-2780),(3.449,-2650),(3.514,-2600),(3.563,-2590),(3.59,-2590),(3.60,-5800),(3.61,-2620),(3.63,-2750),(3.644,-2980),(3.66,-2600),(3.676,-2500),(3.693,-2800),(3.70,-2450),(3.71,-9400),(3.725,-4090),(3.74,-6500),(3.758,-4660),(3.77,-2700),(3.79,-4380),(3.80,-10000),(3.823,-3845),(3.84,-2700),(3.856,-4660),(3.87,-10700),(3.888,-5130),(3.90,-2700),(3.921,-4810),(3.94,-7000),(3.953,-5300),(3.97,-10700),(3.986,-5300),(4.00,-2700),(4.018,-6220),(4.03,-10700),(4.051,-4960),(4.06,-2700),(4.083,-3490),(4.116,-3270),(4.197,-3270),(4.246,-3070),(4.295,-2790),(4.359,-2880),(4.425,-2980),(4.49,-3172),(4.538,-3430),(4.62,-3380),(4.718,-3430),(4.815,-3380),(4.913,-3490),(5.0,-3660)]

ppoec_b = [(0,-598),(0.033,-618),(0.098,-659),(0.163,-681),(0.26,-694),(0.358,-735),(0.456,-824),(0.521,-774),(0.586,-735),(0.651,-774),(0.716,-869),(0.781,-987),(0.846,-1101),(0.911,-1122),(1.009,-1066),(1.106,-1000),(1.188,-950),(1.269,-1000),(1.367,-1033),(1.432,-1066),(1.464,-1151),(1.529,-1137),(1.562,-1101),(1.611,-1033),(1.659,-1151),(1.708,-950),(1.757,-950),(1.79,-1137),(1.84,-1101),(1.887,-1173),(1.952,-1137),(2.05,-1151),(2.099,-1378),(2.132,-1360),(2.164,-1548),(2.196,-1360),(2.229,-1422),(2.278,-1291),(2.343,-1396),(2.408,-1276),(2.473,-1212),(2.538,-1252),(2.603,-1252),(2.668,-1378),(2.733,-1310),(2.798,-1230),(2.863,-1137),(2.928,-1101),(2.994,-1137),(3.059,-1101),(3.123,-1066),(3.189,-1101),(3.254,-1066),(3.303,-1033),(3.351,-1080),(3.416,-1013),(3.481,-950),(3.546,-926),(3.611,-908),(3.709,-908),(3.807,-879),(3.904,-869),(4.002,-858),(4.099,-836),(4.197,-852),(4.295,-836),(4.327,-950),(4.376,-987),(4.409,-950),(4.457,-1052),(4.49,-950),(4.538,-926),(4.587,-908),(4.652,-968),(4.718,-987),(4.783,-1013),(4.848,-1080),(4.88,-1151),(4.913,-1066),(4.962,-1013),(5.0,-968)]
ppoec_b_raw = [(0,-598),(0.02,-560),(0.04,-640),(0.07,-600),(0.10,-700),(0.13,-640),(0.16,-720),(0.20,-680),(0.25,-740),(0.30,-720),(0.36,-760),(0.40,-720),(0.46,-860),(0.50,-760),(0.55,-740),(0.60,-700),(0.65,-790),(0.70,-820),(0.75,-920),(0.80,-1000),(0.85,-1120),(0.90,-1100),(0.95,-1120),(1.00,-1050),(1.05,-1010),(1.10,-980),(1.15,-940),(1.20,-960),(1.25,-990),(1.30,-1020),(1.35,-1030),(1.40,-1060),(1.45,-1100),(1.48,-1140),(1.497,-1617),(1.51,-1140),(1.55,-1130),(1.60,-1100),(1.627,-1250),(1.643,-2230),(1.66,-1100),(1.70,-960),(1.75,-940),(1.79,-1140),(1.806,-2230),(1.82,-1100),(1.85,-1170),(1.871,-1469),(1.89,-1150),(1.93,-1130),(1.969,-1617),(1.99,-1150),(2.03,-1160),(2.07,-1380),(2.10,-1360),(2.13,-1540),(2.165,-2000),(2.18,-2880),(2.196,-1380),(2.23,-1420),(2.28,-1290),(2.34,-1400),(2.40,-1260),(2.45,-1210),(2.49,-1250),(2.505,-2540),(2.52,-1250),(2.57,-1250),(2.603,-2100),(2.62,-1280),(2.67,-1380),(2.73,-1310),(2.80,-1230),(2.86,-1140),(2.93,-1100),(2.99,-1140),(3.01,-2159),(3.03,-1120),(3.06,-1100),(3.12,-1066),(3.19,-1100),(3.25,-1066),(3.30,-1030),(3.35,-1080),(3.42,-1010),(3.449,-1422),(3.47,-960),(3.51,-938),(3.55,-920),(3.61,-900),(3.70,-910),(3.80,-870),(3.90,-860),(4.00,-850),(4.10,-830),(4.20,-850),(4.29,-830),(4.33,-960),(4.359,-1617),(4.38,-990),(4.41,-950),(4.46,-1050),(4.49,-1660),(4.51,-940),(4.55,-920),(4.59,-900),(4.65,-960),(4.72,-990),(4.75,-1617),(4.78,-1010),(4.83,-1080),(4.848,-1617),(4.87,-1150),(4.91,-1060),(4.96,-1010),(5.0,-960)]

names_a = ["TD3 - Reward: -57.4", "SAC - Reward: -443.9", "DDPG - Reward: -431.0",
           "ACKTR - Reward: -1524.5", "A2C - Reward: -1243.1", "PPO - Reward: -237.9"]
names_b = ["TD3 - Reward: -448.4", "TD3 w/ Experience Copy - Reward: -525.7",
           "PPO - Reward: -2030.4", "PPO w/ Experience Copy - Reward: -965.3"]
ticks_a = [100, 1000, 10000]
ticks_b = [1000, 10000, 100000]
tick_text_a = ["\u221210<sup>2</sup>", "\u221210<sup>3</sup>", "\u221210<sup>4</sup>"]
tick_text_b = ["\u221210<sup>3</sup>", "\u221210<sup>4</sup>", "\u221210<sup>5</sup>"]
x_ticks = [0, 1, 2, 3, 4, 5]

# ---------------- styling ----------------
cols_a = ["#8000ff", "#1a96f2", "#4cf2ce", "#b2f296", "#ff964f", "#ff0000"]
cols_b = ["#8000ff", "#2adddd", "#d4dd80", "#ff0000"]
FONT = "DejaVu Sans"
SERIF = "Liberation Serif"


def rgba(hexc, a):
    h = hexc.lstrip("#")
    return "rgba(%d,%d,%d,%.2f)" % (int(h[0:2], 16), int(h[2:4], 16), int(h[4:6], 16), a)


fig = go.Figure()


def add_pair(raw, smooth, color, name, xa, ya, legend):
    fig.add_trace(go.Scatter(
        x=[p[0] for p in raw], y=[-p[1] for p in raw], mode="lines",
        line=dict(color=rgba(color, 0.38), width=1.7), xaxis=xa, yaxis=ya,
        showlegend=False, hoverinfo="skip"))
    fig.add_trace(go.Scatter(
        x=[p[0] for p in smooth], y=[-p[1] for p in smooth], mode="lines",
        line=dict(color=color, width=2.4), xaxis=xa, yaxis=ya,
        name=name, legend=legend, showlegend=True))


left = [(td3_a_raw, td3_a), (sac_a_raw, sac_a), (ddpg_a_raw, ddpg_a),
        (acktr_a_raw, acktr_a), (a2c_a_raw, a2c_a), (ppo_a_raw, ppo_a)]
for (raw, sm), c, n in zip(left, cols_a, names_a):
    add_pair(raw, sm, c, n, "x", "y", "legend")

right = [(td3_b_raw, td3_b), (td3ec_b_raw, td3ec_b), (ppo_b_raw, ppo_b), (ppoec_b_raw, ppoec_b)]
for (raw, sm), c, n in zip(right, cols_b, names_b):
    add_pair(raw, sm, c, n, "x2", "y2", "legend2")

W, H = 1349, 535
axis_common = dict(showline=True, linecolor="#000000", linewidth=1, mirror=True,
                   ticks="outside", ticklen=5, tickwidth=1, tickcolor="#000000",
                   showgrid=False, zeroline=False,
                   tickfont=dict(family=FONT, size=16, color="#000000"))

fig.update_layout(
    width=W, height=H, margin=dict(l=0, r=0, t=0, b=0),
    paper_bgcolor="white", plot_bgcolor="white",
    xaxis=dict(domain=[84 / W, 649.5 / W], range=[-0.25, 5.25], tickvals=x_ticks,
               ticktext=[str(t) for t in x_ticks], anchor="y", **axis_common),
    yaxis=dict(domain=[(H - 427.3) / H, (H - 4.7) / H], type="log", range=[4.35, 1.844],
               tickvals=ticks_a, ticktext=tick_text_a, anchor="x", **axis_common),
    xaxis2=dict(domain=[759.7 / W, 1324 / W], range=[-0.25, 5.25], tickvals=x_ticks,
                ticktext=[str(t) for t in x_ticks], anchor="y2", **axis_common),
    yaxis2=dict(domain=[(H - 427) / H, (H - 7.3) / H], type="log", range=[5.82, 2.308],
                tickvals=ticks_b, ticktext=tick_text_b, anchor="x2", **axis_common),
    legend=dict(x=637 / W, y=(H - 418) / H, xanchor="right", yanchor="bottom",
                bgcolor="rgba(255,255,255,0.8)", bordercolor="#cccccc", borderwidth=1,
                font=dict(family=FONT, size=16, color="#000000")),
    legend2=dict(x=1317 / W, y=(H - 420) / H, xanchor="right", yanchor="bottom",
                 bgcolor="rgba(255,255,255,0.8)", bordercolor="#cccccc", borderwidth=1,
                 font=dict(family=FONT, size=16, color="#000000")),
    showlegend=True,
)

ann_font = dict(family=FONT, size=16, color="#000000")
annotations = [
    dict(text="Number of environment steps", x=366.8 / W, y=(H - 467) / H, xanchor="center", yanchor="middle"),
    dict(text="Number of environment steps", x=1042 / W, y=(H - 467) / H, xanchor="center", yanchor="middle"),
    dict(text="1e6", x=651 / W, y=(H - 466) / H, xanchor="right", yanchor="middle"),
    dict(text="1e6", x=1326 / W, y=(H - 466) / H, xanchor="right", yanchor="middle"),
    dict(text="Reward", x=17 / W, y=(H - 216) / H, xanchor="center", yanchor="middle", textangle=-90),
    dict(text="Reward", x=693 / W, y=(H - 218) / H, xanchor="center", yanchor="middle", textangle=-90),
]
for a in annotations:
    fig.add_annotation(xref="paper", yref="paper", showarrow=False, font=ann_font, **a)

captions = [
    dict(text="(a) Comparison of RL algorithms on the stationary goal environment", x=20 / W, y=(H - 500) / H, size=22.2),
    dict(text="(b) Comparison of PPO and TD3 experience copy on the trajectory following", x=680 / W, y=(H - 500) / H, size=21.2),
    dict(text="environment", x=680 / W, y=(H - 524) / H, size=21.2),
]
for c in captions:
    fig.add_annotation(xref="paper", yref="paper", showarrow=False,
                       font=dict(family=SERIF, size=c["size"], color="#000000"),
                       xanchor="left", yanchor="middle", text=c["text"], x=c["x"], y=c["y"])

fig.write_html("out.html")
